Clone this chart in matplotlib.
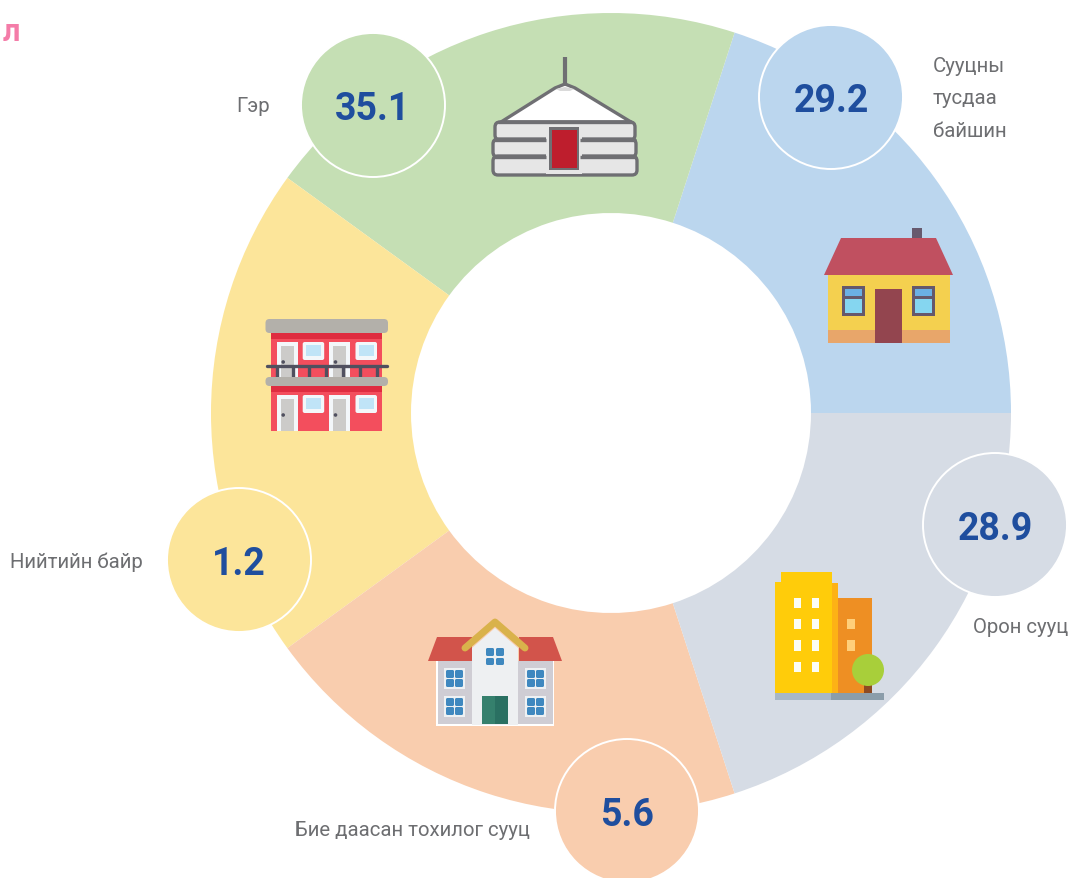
import matplotlib
matplotlib.use("Agg")
import matplotlib.pyplot as plt
from matplotlib.patches import Circle, Rectangle, Polygon, FancyBboxPatch

plt.rcParams['font.family'] = ['Roboto', 'Liberation Sans', 'DejaVu Sans']

# data, going round the ring from the right hand side, anticlockwise
categories = ["Сууцны\nтусдаа\nбайшин", "Гэр", "Нийтийн байр", "Бие даасан тохилог сууц", "Орон сууц"]
values = [29.2, 35.1, 1.2, 5.6, 28.9]
value_labels = ["29.2", "35.1", "1.2", "5.6", "28.9"]
wedge_shares = [1, 1, 1, 1, 1]  # the ring is split evenly, whatever the value

colors = ["#BBD6EE", "#C5DFB4", "#FCE59A", "#F9CDAE", "#D6DCE5"]
bubble_xy = [(831, 97), (373, 105), (239, 560), (627, 811), (995, 525)]
label_xy = [(933, 98), (236, 105), (10, 561), (295, 830), (973, 627)]

fig = plt.figure(figsize=(10.72, 8.79), dpi=100)
ax = fig.add_axes([0, 0, 1, 1])

ax.pie(wedge_shares, colors=colors, center=(611, 413), radius=400, startangle=0,
       counterclock=False, wedgeprops=dict(width=200, linewidth=0))
ax.set_xlim(0, 1072)
ax.set_ylim(878, -1)
ax.set_aspect('equal')
ax.axis('off')


def rect(x0, y0, x1, y1, c, z=3):
    ax.add_patch(Rectangle((x0, y0), x1 - x0, y1 - y0, fc=c, ec='none', zorder=z))


def rrect(x0, y0, x1, y1, c, r=3, z=3, ec='none', lw=0):
    ax.add_patch(FancyBboxPatch((x0 + r, y0 + r), x1 - x0 - 2 * r, y1 - y0 - 2 * r,
                                boxstyle="round,pad=%g,rounding_size=%g" % (r, r),
                                fc=c, ec=ec, lw=lw, zorder=z))


def poly(pts, c, z=3, ec='none', lw=0):
    ax.add_patch(Polygon(pts, closed=True, fc=c, ec=ec, lw=lw, zorder=z, joinstyle='round'))


def line(xs, ys, c, lw, z=4, cap='butt'):
    ax.plot(xs, ys, color=c, lw=lw, zorder=z, solid_capstyle=cap)


def draw_yurt():
    g = "#6F6F73"
    line([564.5, 564.5], [57, 86], g, 3)
    poly([(501, 122), (555, 88), (565, 84), (575, 88), (631, 122)], "white", ec=g, lw=2.4)
    poly([(556, 89), (565, 87), (574, 89), (570, 91), (560, 91)], "#DADADA", z=4)
    rrect(495, 122, 635, 140, "#E6E6E6", r=5, ec=g, lw=2.4)
    rrect(493, 139, 636, 157, "#E6E6E6", r=5, ec=g, lw=2.4)
    rrect(493, 156, 637, 175, "#E6E6E6", r=5, ec=g, lw=2.4)
    rect(546, 124, 582, 174, "#E6E6E6", z=4)
    rect(549, 127, 579, 170, g, z=5)
    rect(551.5, 129.5, 577, 168, "#BE1E2D", z=6)
    for x0, x1 in ((494, 546), (580, 636)):
        line([x0, x1], [139.5, 139.5], g, 2.4, z=5)
        line([x0, x1], [156.5, 156.5], g, 2.4, z=5)
    line([498, 632], [122, 122], g, 2.4, z=5)


def draw_house():
    rect(912, 228, 922, 239, "#675A6E")
    poly([(841, 238), (936, 238), (953, 275), (824, 275)], "#C05060")
    rect(828, 275, 949.5, 330, "#F4D04F")
    rect(828, 330, 949.5, 343, "#E8A66A")
    rect(875, 289, 902, 343, "#93454F", z=4)
    for x0 in (842, 912):
        rect(x0, 286, x0 + 23, 316, "#65586C", z=4)
        rect(x0 + 3, 289, x0 + 20, 296, "#6BB0E4", z=5)
        rect(x0 + 3, 299, x0 + 20, 313, "#85D6F0", z=5)


def draw_flats():
    rect(271, 333, 382, 431, "#F34E5D")
    rect(271, 333, 382, 339, "#DF2C40", z=4)
    rect(271, 386, 382, 392, "#DF2C40", z=4)
    for dy, door_bottom in ((0, 378), (53, 431)):
        for x0 in (276.7, 329):
            rect(x0, 342 + dy, x0 + 21, door_bottom, "#F3F7FA", z=4)
            rect(x0 + 4, 346 + dy, x0 + 17, door_bottom, "#CCCBC9", z=5)
            ax.add_patch(Circle((x0 + 6.5, 362 + dy), 1.8, fc="#50505F", ec='none', zorder=6))
        for x0 in (302.7, 355.5):
            rrect(x0, 342 + dy, x0 + 21.5, 360 + dy, "#F3F7FA", r=2, z=4)
            rect(x0 + 3, 345 + dy, x0 + 18, 355.5 + dy, "#C0E4F7", z=5)
    rrect(265.5, 319, 388, 333, "#B3B0AA", r=4, z=6)
    for x in (276.7, 292.7, 309.3, 326.3, 343.3, 360, 377):
        line([x, x], [365, 378], "#50505F", 2.4, z=6)
    rrect(265.5, 377, 388, 386, "#B3B0AA", r=4, z=7)
    line([267, 387], [365.5, 365.5], "#50505F", 2.4, z=7, cap='round')


def draw_villa():
    red = "#D2544B"
    blue = "#3F88BF"
    poly([(437, 637), (472, 637), (472, 661), (428, 661)], red)
    poly([(519, 637), (553, 637), (562, 661), (519, 661)], red)
    rect(436, 661, 554, 726, "white")
    rect(437.5, 661, 552.5, 724, "#CFCDD4", z=3.5)
    poly([(472, 648), (495, 628), (518, 648), (518, 725), (472, 725)], "#EEF0F2", z=4)
    line([465, 495, 525], [648, 622, 648], "#D9B24B", 5, z=5, cap='round')
    rect(482, 696, 495, 724, "#35806D", z=5)
    rect(495, 696, 508, 724, "#2A7062", z=5)
    for x0, x1 in ((486, 494), (496, 504)):
        for y0, y1 in ((648, 656), (658, 665)):
            rrect(x0, y0, x1, y1, blue, r=1.5, z=5)
    for wx in (444, 525):
        for wy in (668, 696):
            rect(wx, wy, wx + 21, wy + 21, "#EEF1F3", z=4)
            for dx in (2, 11):
                for dy in (2, 11):
                    rrect(wx + dx, wy + dy, wx + dx + 8, wy + dy + 8, blue, r=1.5, z=5)


def draw_block():
    rect(775, 582, 832, 693, "#FFCC0A")
    rect(781, 572, 832, 582, "#FFCC0A")
    rect(832, 583, 838, 693, "#FDB215")
    rect(838, 598, 872, 693, "#EE8F23")
    rect(775, 693, 831, 700, "#A7B7C6")
    rect(831, 693, 884, 700, "#8B9DAA")
    for y0, y1 in ((598, 608), (619, 629), (640, 651), (662, 672)):
        rect(794, y0, 801, y1, "#FBFDF5", z=4)
        rect(812, y0, 819, y1, "#FBFDF5", z=4)
    rect(847, 619, 855, 629, "#FFCF7A", z=4)
    rect(847, 640, 855, 651, "#FFCF7A", z=4)
    rect(864, 685, 872, 693, "#8D4A22", z=4)
    ax.add_patch(Circle((868, 670), 16, fc="#A8CF3A", ec='none', zorder=5))


draw_yurt()
draw_house()
draw_flats()
draw_villa()
draw_block()

# value bubbles and labels
for (x, y), c, txt in zip(bubble_xy, colors, value_labels):
    ax.add_patch(Circle((x, y), 72, fc=c, ec='white', lw=1.4, zorder=8))
    ax.text(x, y, txt, ha='center', va='center_baseline', fontsize=27, fontweight='bold',
            color="#1F4E9E", zorder=9)

for (x, y), name in zip(label_xy, categories):
    ax.text(x, y, name, ha='left', va='center', fontsize=14.7, color="#6D6E71",
            linespacing=1.9, zorder=9)

ax.text(3, 31, "л", ha='left', va='center', fontsize=22, fontweight='bold', color="#F47CA8")

fig.savefig("out.png", dpi=100)
